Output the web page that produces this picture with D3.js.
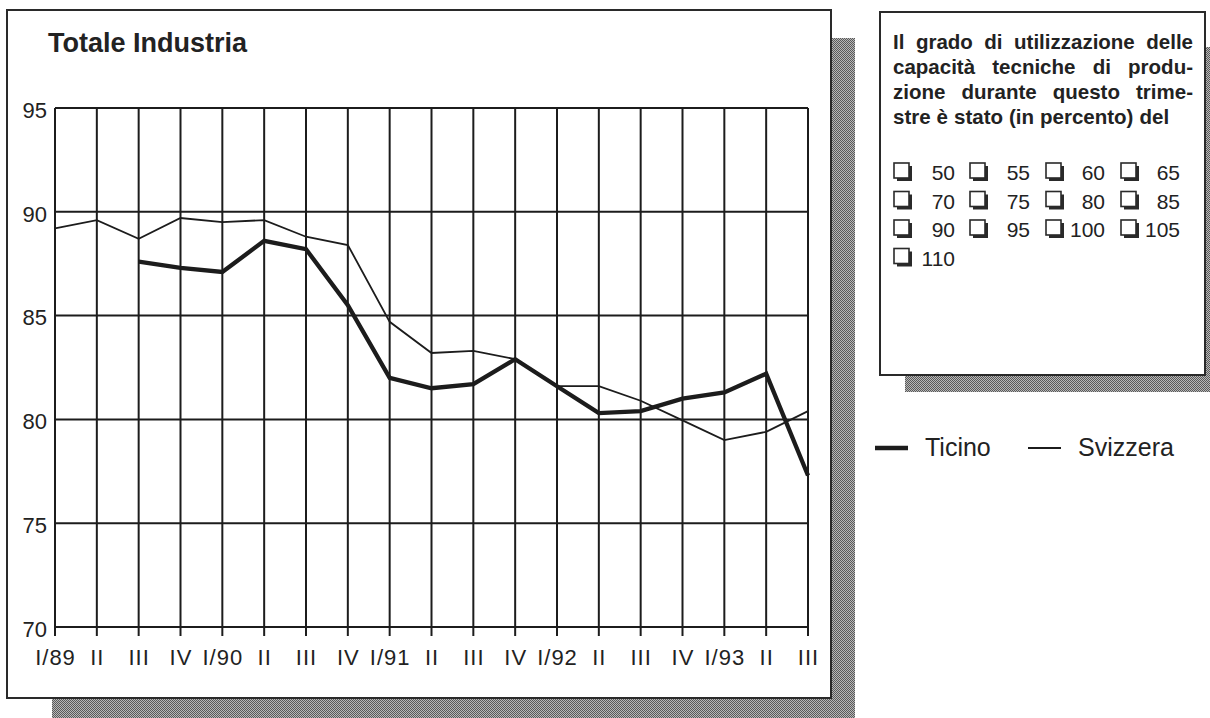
<!DOCTYPE html>
<html>
<head>
<meta charset="utf-8">
<script src="https://cdn.jsdelivr.net/npm/d3@7"></script>
<style>
  html, body { margin: 0; padding: 0; background: #fff; }
  svg { display: block; font-family: "Liberation Sans", Arial, sans-serif; }
</style>
</head>
<body>
<svg id="chart" width="1210" height="718"></svg>
<script>
// Quarters, 1989 to 1993
const quarters = ["I/89","II","III","IV","I/90","II","III","IV","I/91","II","III","IV","I/92","II","III","IV","I/93","II","III"];
// Capacity utilisation, percent
const ticino   = [null, null, 87.6, 87.3, 87.1, 88.6, 88.2, 85.5, 82.0, 81.5, 81.7, 82.9, 81.6, 80.3, 80.4, 81.0, 81.3, 82.2, 77.3];
const svizzera = [89.2, 89.6, 88.7, 89.7, 89.5, 89.6, 88.8, 88.4, 84.7, 83.2, 83.3, 82.9, 81.6, 81.6, 80.9, 79.95, 79.0, 79.4, 80.4];
const yTicks = [70, 75, 80, 85, 90, 95];

const questionLines = [
  "Il grado di utilizzazione delle",
  "capacità tecniche di produ-",
  "zione durante questo trime-",
  "stre è stato (in percento) del"
];
const answerOptions = [50, 55, 60, 65, 70, 75, 80, 85, 90, 95, 100, 105, 110];

const svg = d3.select("#chart");
const ink = "#1c1c1c";

// dithered shadow fill
const defs = svg.append("defs");
const pat = defs.append("pattern").attr("id", "dither")
  .attr("width", 2).attr("height", 2).attr("patternUnits", "userSpaceOnUse");
pat.append("rect").attr("width", 2).attr("height", 2).attr("fill", "#b8b8b8");
pat.append("rect").attr("width", 1).attr("height", 1).attr("fill", "#5a5a5a");
pat.append("rect").attr("x", 1).attr("y", 1).attr("width", 1).attr("height", 1).attr("fill", "#5a5a5a");

// ---- main panel ----
svg.append("rect").attr("x", 52).attr("y", 38).attr("width", 803).attr("height", 690).attr("fill", "url(#dither)");
svg.append("rect").attr("x", 7).attr("y", 10).attr("width", 824).attr("height", 688)
  .attr("fill", "#fff").attr("stroke", "#2a2a2a").attr("stroke-width", 2);

svg.append("text").attr("x", 48).attr("y", 52)
  .attr("font-size", 27).attr("font-weight", 700).attr("fill", "#222")
  .text("Totale Industria");

const plot = { left: 55, right: 808, top: 108, bottom: 627 };
const x = d3.scalePoint().domain(d3.range(quarters.length)).range([plot.left, plot.right]);
const y = d3.scaleLinear().domain([70, 95]).range([plot.bottom, plot.top]);

const g = svg.append("g");

// horizontal grid
g.selectAll("line.h").data(yTicks).join("line")
  .attr("x1", plot.left).attr("x2", plot.right)
  .attr("y1", d => y(d)).attr("y2", d => y(d))
  .attr("stroke", ink).attr("stroke-width", 2);

// vertical grid, running a little below the baseline as ticks
g.selectAll("line.v").data(d3.range(quarters.length)).join("line")
  .attr("x1", d => x(d)).attr("x2", d => x(d))
  .attr("y1", plot.top).attr("y2", plot.bottom + 9)
  .attr("stroke", ink).attr("stroke-width", 2);

// y labels
const yAxis = d3.axisLeft(y).tickValues(yTicks).tickSize(0).tickPadding(8);
const ya = g.append("g").attr("transform", `translate(${plot.left},0)`).call(yAxis);
ya.select(".domain").remove();
ya.selectAll("text").attr("font-size", 22).attr("fill", "#222")
  .attr("font-family", "Liberation Sans, Arial, sans-serif").attr("dy", "0.42em");

// x labels
const xAxis = d3.axisBottom(x).tickFormat(i => quarters[i]).tickSize(0).tickPadding(0);
const xa = g.append("g").attr("transform", `translate(0,${plot.bottom})`).call(xAxis);
xa.select(".domain").remove();
xa.selectAll("text").attr("font-size", 22).attr("fill", "#222")
  .attr("font-family", "Liberation Sans, Arial, sans-serif")
  .attr("dy", null).attr("y", 38).attr("letter-spacing", 1);

// series lines
const line = d3.line().defined(d => d != null).x((d, i) => x(i)).y(d => y(d));
g.append("path").datum(svizzera).attr("d", line)
  .attr("fill", "none").attr("stroke", ink).attr("stroke-width", 1.8);
g.append("path").datum(ticino).attr("d", line)
  .attr("fill", "none").attr("stroke", ink).attr("stroke-width", 4.3).attr("stroke-linejoin", "miter");

// ---- questionnaire panel ----
svg.append("rect").attr("x", 905).attr("y", 47).attr("width", 320).attr("height", 345).attr("fill", "url(#dither)");
svg.append("rect").attr("x", 880).attr("y", 12).attr("width", 325).attr("height", 363)
  .attr("fill", "#fff").attr("stroke", "#2a2a2a").attr("stroke-width", 2);

const textLeft = 893, textRight = 1193;
questionLines.forEach((ln, li) => {
  const words = ln.split(" ");
  const yy = 49 + li * 25;
  const tg = svg.append("g");
  const nodes = words.map(w => tg.append("text").attr("y", yy)
    .attr("font-size", 20.5).attr("font-weight", 700).attr("fill", "#222").text(w));
  const widths = nodes.map(n => n.node().getComputedTextLength());
  const total = d3.sum(widths);
  const justify = li < questionLines.length - 1;
  const gap = justify ? (textRight - textLeft - total) / (words.length - 1) : 6;
  let cx = textLeft;
  nodes.forEach((n, k) => { n.attr("x", cx); cx += widths[k] + gap; });
});

const colStart = [894, 970, 1046, 1121];
const colEnd = [955, 1030, 1105, 1180];
answerOptions.forEach((v, k) => {
  const col = k % 4, row = Math.floor(k / 4);
  const base = 180 + row * 28.5;
  const bx = colStart[col], by = base - 17;
  svg.append("rect").attr("x", bx + 3).attr("y", by + 3).attr("width", 15).attr("height", 15).attr("fill", "#2a2a2a");
  svg.append("rect").attr("x", bx).attr("y", by).attr("width", 15).attr("height", 15)
    .attr("fill", "#fff").attr("stroke", "#2a2a2a").attr("stroke-width", 1.6);
  svg.append("text").attr("x", colEnd[col]).attr("y", base).attr("text-anchor", "end")
    .attr("font-size", 21).attr("fill", "#222").text(v);
});

// ---- legend ----
const legend = [
  { name: "Ticino", x: 875, w: 4.5 },
  { name: "Svizzera", x: 1028, w: 2 }
];
legend.forEach(d => {
  svg.append("line").attr("x1", d.x).attr("x2", d.x + 33).attr("y1", 448).attr("y2", 448)
    .attr("stroke", ink).attr("stroke-width", d.w);
  svg.append("text").attr("x", d.x + 50).attr("y", 456).attr("font-size", 25).attr("fill", "#222").text(d.name);
});
</script>
</body>
</html>
